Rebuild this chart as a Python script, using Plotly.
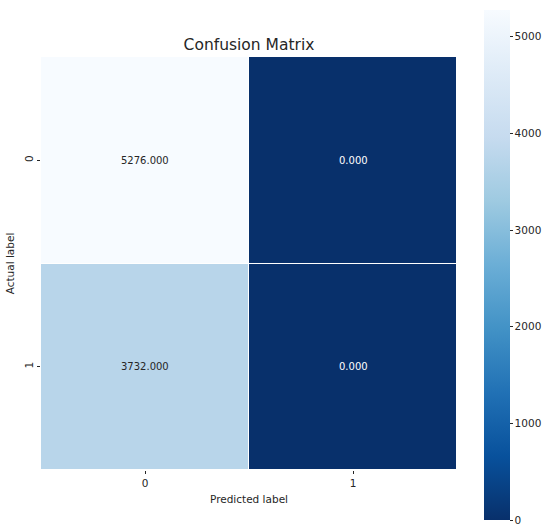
import plotly.graph_objects as go
import plotly.colors as pc

# Confusion matrix counts (rows: actual, columns: predicted)
class_labels = ["0", "1"]
counts = [
    [5276, 0],
    [3732, 0],
]
colorbar_ticks = [0, 1000, 2000, 3000, 4000, 5000]

W, H = 544, 527
font_family = "DejaVu Sans"
text_dark = "#262626"

zmax = max(max(r) for r in counts)
zmin = 0

fig = go.Figure()
fig.add_trace(
    go.Heatmap(
        z=counts,
        x=class_labels,
        y=class_labels,
        colorscale=pc.sequential.Blues_r,
        zmin=zmin,
        zmax=zmax,
        xgap=1,
        ygap=1,
        hoverinfo="skip",
        colorbar=dict(
            x=484 / W,
            xanchor="left",
            xpad=0,
            y=(H - 520) / H,
            yanchor="bottom",
            ypad=0,
            len=510 / H,
            lenmode="fraction",
            thickness=26,
            thicknessmode="pixels",
            outlinewidth=0,
            tickvals=colorbar_ticks,
            ticks="outside",
            ticklen=3,
            tickcolor=text_dark,
            ticklabeloverflow="allow",
            tickfont=dict(family=font_family, size=10.5, color=text_dark),
        ),
    )
)

# Cell value labels, dark text on light cells and white text on dark cells
annotations = []
for i, row in enumerate(counts):
    for j, v in enumerate(row):
        frac = (v - zmin) / (zmax - zmin)
        annotations.append(
            dict(
                x=class_labels[j],
                y=class_labels[i],
                xref="x",
                yref="y",
                text=f"{v:.3f}",
                showarrow=False,
                font=dict(family=font_family, size=10,
                          color=text_dark if frac > 0.5 else "white"),
            )
        )

fig.update_layout(
    width=W,
    height=H,
    margin=dict(l=0, r=0, t=0, b=0),
    paper_bgcolor="white",
    plot_bgcolor="white",
    font=dict(family=font_family, color=text_dark),
    title=dict(
        text="Confusion Matrix",
        x=249 / W,
        xanchor="center",
        y=1 - 45 / H,
        yanchor="middle",
        font=dict(family=font_family, size=15.5, color=text_dark),
    ),
    annotations=annotations,
    xaxis=dict(
        domain=[41 / W, 457 / W],
        type="category",
        showgrid=False,
        zeroline=False,
        showline=False,
        ticks="outside",
        ticklen=3,
        tickcolor=text_dark,
        tickfont=dict(size=10.5, color=text_dark),
        title=dict(text="Predicted label", font=dict(size=10.5, color=text_dark), standoff=8),
    ),
    yaxis=dict(
        domain=[1 - 470 / H, 1 - 57 / H],
        type="category",
        autorange="reversed",
        showgrid=False,
        zeroline=False,
        showline=False,
        ticks="outside",
        ticklen=3,
        tickcolor=text_dark,
        tickangle=-90,
        tickfont=dict(size=10.5, color=text_dark),
        title=dict(text="Actual label", font=dict(size=10.5, color=text_dark), standoff=6),
    ),
)

fig.write_html("out.html")
